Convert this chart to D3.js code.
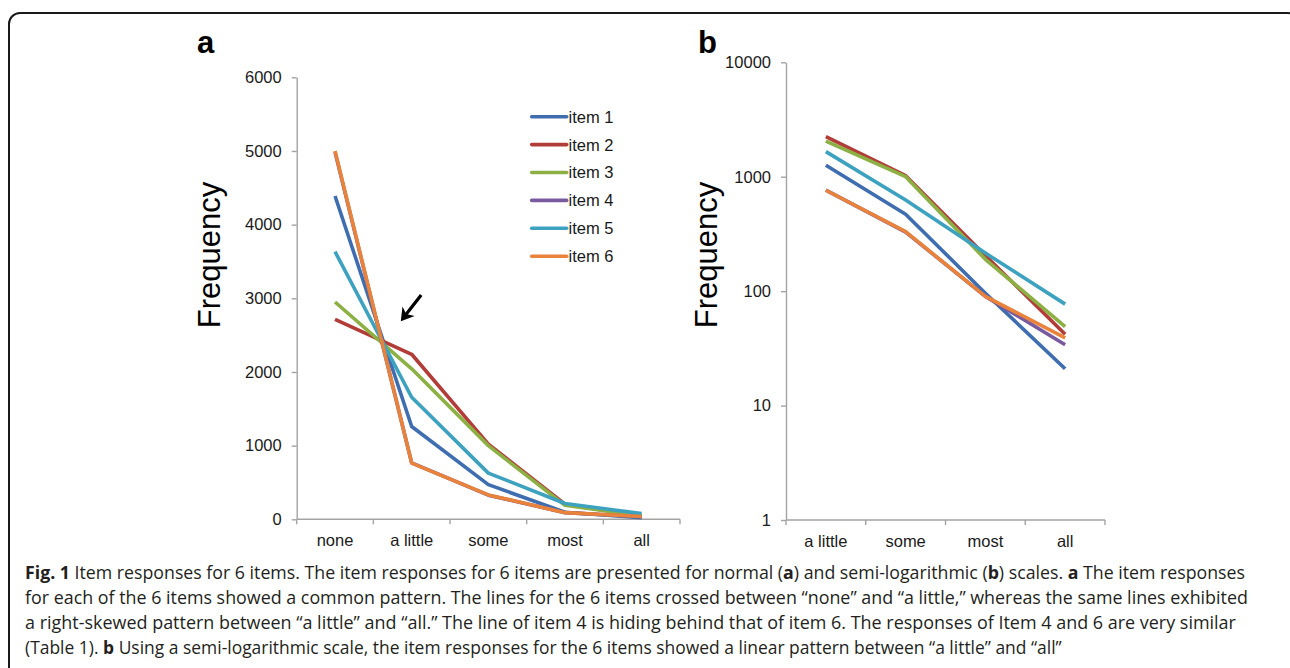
<!DOCTYPE html>
<html>
<head>
<meta charset="utf-8">
<script src="https://cdn.jsdelivr.net/npm/d3@7"></script>
<style>
  html, body { margin: 0; padding: 0; background: #fff; }
  svg { display: block; }
</style>
</head>
<body>
<svg id="chart" width="1290" height="668"></svg>
<script>
// ---------------- DATA ----------------
const categoriesA = ["none", "a little", "some", "most", "all"];
const categoriesB = ["a little", "some", "most", "all"];
const seriesNames = ["item 1", "item 2", "item 3", "item 4", "item 5", "item 6"];
const item1 = [4389, 1260, 470, 96, 21];
const item2 = [2715, 2240, 1020, 205, 42];
const item3 = [2950, 2043, 1000, 190, 49];
const item4 = [4985, 765, 328, 90, 34];
const item5 = [3633, 1657, 627, 215, 77];
const item6 = [5000, 762, 331, 90, 39];
const yTicksA = [0, 1000, 2000, 3000, 4000, 5000, 6000];
const yTicksB = [1, 10, 100, 1000, 10000];
const seriesColors = ["#3e6db0", "#b23c38", "#8cb043", "#7a5a9e", "#3ca2bf", "#e9823a"];
const captionLines = [
  [["b", "Fig. 1"], ["n", " Item responses for 6 items. The item responses for 6 items are presented for normal ("], ["b", "a"], ["n", ") and semi-logarithmic ("], ["b", "b"], ["n", ") scales. "], ["b", "a"], ["n", " The item responses"]],
  [["n", "for each of the 6 items showed a common pattern. The lines for the 6 items crossed between \u201cnone\u201d and \u201ca little,\u201d whereas the same lines exhibited"]],
  [["n", "a right-skewed pattern between \u201ca little\u201d and \u201call.\u201d The line of item 4 is hiding behind that of item 6. The responses of Item 4 and 6 are very similar"]],
  [["n", "(Table 1). "], ["b", "b"], ["n", " Using a semi-logarithmic scale, the item responses for the 6 items showed a linear pattern between \u201ca little\u201d and \u201call\u201d"]]
];

const allSeries = [item1, item2, item3, item4, item5, item6].map((vals, i) => ({
  name: seriesNames[i], color: seriesColors[i],
  values: categoriesA.map((c, j) => ({ cat: c, v: vals[j] }))
}));

// ---------------- SETUP ----------------
const svg = d3.select("#chart");
const AXIS_COLOR = "#a3a3a3";
const LABEL_COLOR = "#1a1a1a";
const FONT = "'Liberation Sans', Arial, sans-serif";

// border frame
svg.append("rect")
  .attr("x", 9).attr("y", 13).attr("width", 1290).attr("height", 700)
  .attr("rx", 11).attr("ry", 11)
  .attr("fill", "none").attr("stroke", "#1a1a1a").attr("stroke-width", 2);

function drawPanel(opts) {
  const { xScale, yScale, yTicks, cats, fmt, label, labelX, freqX, freqY } = opts;
  const g = svg.append("g");
  const [x0, x1] = xScale.range();
  const [yb, yt] = yScale.range();

  // y axis
  const yAxis = d3.axisLeft(yScale).tickValues(yTicks).tickFormat(fmt)
    .tickSize(5).tickSizeOuter(0).tickPadding(10);
  const ya = g.append("g").attr("transform", `translate(${x0},0)`).call(yAxis);
  ya.select(".domain").attr("stroke", AXIS_COLOR).attr("stroke-width", 1.4);
  ya.selectAll(".tick line").attr("stroke", AXIS_COLOR).attr("stroke-width", 1.4);
  ya.selectAll(".tick text").attr("fill", LABEL_COLOR)
    .style("font-family", FONT).style("font-size", "16.5px");

  // x axis labels
  const xAxis = d3.axisBottom(xScale).tickSize(0).tickPadding(15);
  const xa = g.append("g").attr("transform", `translate(0,${yb})`).call(xAxis);
  xa.select(".domain").remove();
  xa.selectAll(".tick text").attr("fill", LABEL_COLOR)
    .style("font-family", FONT).style("font-size", "16.5px");
  // x axis line + boundary ticks
  g.append("line").attr("x1", x0).attr("x2", x1).attr("y1", yb).attr("y2", yb)
    .attr("stroke", AXIS_COLOR).attr("stroke-width", 1.4);
  const bounds = cats.map(c => xScale(c)).concat([xScale(cats[cats.length - 1]) + xScale.bandwidth()]);
  g.selectAll(".xb").data(bounds).join("line")
    .attr("x1", d => d).attr("x2", d => d).attr("y1", yb).attr("y2", yb + 5)
    .attr("stroke", AXIS_COLOR).attr("stroke-width", 1.4);

  // lines
  const line = d3.line()
    .x(d => xScale(d.cat) + xScale.bandwidth() / 2)
    .y(d => yScale(d.v));
  g.selectAll(".series").data(allSeries).join("path")
    .attr("fill", "none")
    .attr("stroke", d => d.color)
    .attr("stroke-width", 3.6)
    .attr("stroke-linejoin", "round")
    .attr("d", d => line(d.values.filter(p => cats.includes(p.cat))));

  // y title
  g.append("text")
    .attr("transform", `translate(${freqX},${freqY}) rotate(-90)`)
    .attr("text-anchor", "middle")
    .style("font-family", FONT).style("font-size", "31px")
    .attr("fill", "#000").text("Frequency");

  // panel letter
  g.append("text").attr("x", labelX).attr("y", 53)
    .style("font-family", FONT).style("font-size", "31px").style("font-weight", "bold")
    .attr("fill", "#000").text(label);
  return g;
}

// Panel a
const xA = d3.scaleBand().domain(categoriesA).range([296.7, 680]).padding(0);
const yA = d3.scaleLinear().domain([0, 6000]).range([519.3, 77.3]);
drawPanel({ xScale: xA, yScale: yA, yTicks: yTicksA, cats: categoriesA,
  fmt: d3.format("d"), label: "a", labelX: 197, freqX: 220, freqY: 255 });

// Panel b
const xB = d3.scaleBand().domain(categoriesB).range([786, 1105]).padding(0);
const yB = d3.scaleLog().domain([1, 10000]).range([520, 62.3]);
drawPanel({ xScale: xB, yScale: yB, yTicks: yTicksB, cats: categoriesB,
  fmt: d3.format("d"), label: "b", labelX: 698, freqX: 717, freqY: 255 });

// Legend (panel a)
const lg = svg.append("g");
seriesNames.forEach((n, i) => {
  const y = 116.7 + i * 27.9;
  lg.append("line").attr("x1", 531.7).attr("x2", 566.7).attr("y1", y).attr("y2", y)
    .attr("stroke", seriesColors[i]).attr("stroke-width", 3.6).attr("stroke-linecap", "round");
  lg.append("text").attr("x", 568.5).attr("y", y).attr("dy", "0.36em")
    .style("font-family", FONT).style("font-size", "16.5px")
    .attr("fill", LABEL_COLOR).text(n);
});

// Arrow annotation (panel a), pointing at the crossing region
const tipX = xA("a little") + xA.bandwidth() / 2 - 10;
const tipY = yA(2705);
const tailX = tipX + 19.5, tailY = tipY - 25;
const ang = Math.atan2(tipY - tailY, tipX - tailX);
const hl = 11, hw = 0.55;
svg.append("line").attr("x1", tailX).attr("y1", tailY)
  .attr("x2", tipX - Math.cos(ang) * 6).attr("y2", tipY - Math.sin(ang) * 6)
  .attr("stroke", "#000").attr("stroke-width", 3.2);
svg.append("path")
  .attr("d", `M${tipX},${tipY} L${tipX - hl * Math.cos(ang - hw)},${tipY - hl * Math.sin(ang - hw)} L${tipX - hl * 0.6 * Math.cos(ang)},${tipY - hl * 0.6 * Math.sin(ang)} L${tipX - hl * Math.cos(ang + hw)},${tipY - hl * Math.sin(ang + hw)} Z`)
  .attr("fill", "#000").attr("stroke", "#000").attr("stroke-width", 1.5).attr("stroke-linejoin", "miter");

// Caption: each line horizontally scaled to the reference width
const capWidths = [1221, 1224, 1212, 1037];
const cap = svg.append("g");
captionLines.forEach((parts, i) => {
  const t = cap.append("text").attr("x", 0).attr("y", 0)
    .style("font-family", "'Open Sans', 'Noto Sans', sans-serif")
    .style("font-size", "18px").attr("fill", "#231f20");
  parts.forEach(([k, s]) => {
    t.append("tspan").style("font-weight", k === "b" ? "bold" : "normal").text(s);
  });
  const w = t.node().getComputedTextLength();
  const k = capWidths[i] / w;
  t.attr("transform", `translate(25,${579 + i * 25}) scale(${k},1)`);
});
</script>
</body>
</html>
